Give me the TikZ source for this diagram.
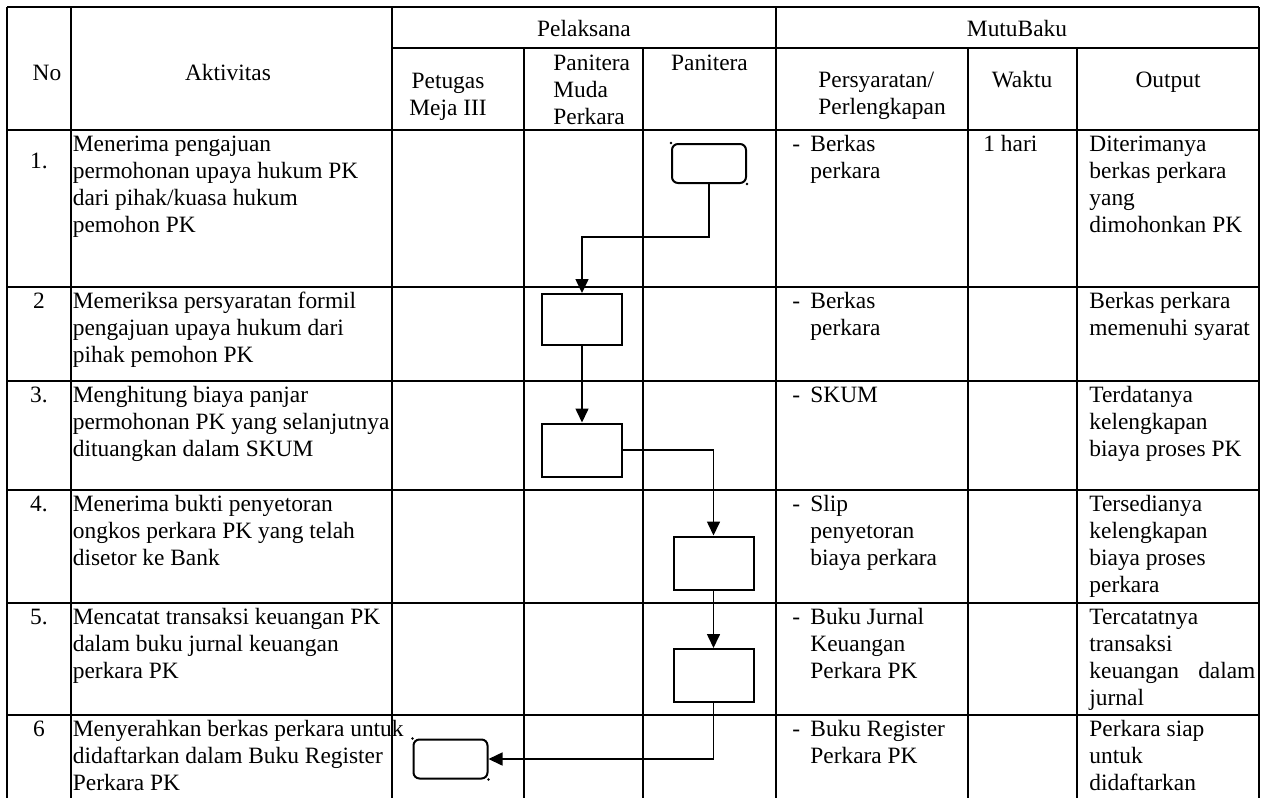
\documentclass[tikz,border=0pt]{standalone}
\usepackage{fontspec}
\setmainfont{Liberation Serif}
\usetikzlibrary{arrows.meta}
\newcommand{\isi}{\fontsize{11.7}{13.5}\selectfont}
\newcommand{\butir}{\makebox[9pt][l]{-}}
\newcommand{\sisip}{\hspace*{9pt}}
\begin{document}
\begin{tikzpicture}[x=0.5pt,y=-0.5pt,
    garis/.style={line width=0.65pt},
    kotak/.style={draw, line width=1pt, minimum width=40pt, minimum height=26.5pt, inner sep=0pt},
    bulat/.style={kotak, rounded corners=3pt, minimum width=37pt, minimum height=19.5pt},
    panah/.style={line width=0.8pt, -{Triangle[width=6.5pt,length=7pt]}},
    sel/.style={anchor=north west, inner sep=0pt, align=left, font=\isi},
    kepala/.style={inner sep=0pt, font=\isi}]
  \clip (0,0) rectangle (1268,798);
  \fill[white] (0,0) rectangle (1268,798);

  % garis tabel
  \draw[garis] (7,7) -- (1259,7);
  \draw[garis] (392,48) -- (1259,48);
  \foreach \y in {130,287,381,490,603,715}
    \draw[garis] (7,\y) -- (1259,\y);
  \foreach \x in {7,71,392,776,1259}
    \draw[garis] (\x,7) -- (\x,798);
  \foreach \x in {524,643,968,1077}
    \draw[garis] (\x,48) -- (\x,798);

  % kepala tabel
  \node[kepala, anchor=base] (hno)   at (47,80)    {No};
  \node[kepala, anchor=base] (hakt)  at (228,80)   {Aktivitas};
  \node[kepala, anchor=base] (hpel)  at (584,36)   {Pelaksana};
  \node[kepala, anchor=base] (hmutu) at (1017,36)  {MutuBaku};
  \node[kepala, anchor=north, align=center] (hpet) at (448,69) {\strut Petugas\\Meja III};
  \node[sel] (hpmp) at (553,51) {\strut Panitera\\Muda\\Perkara};
  \node[kepala, anchor=base] (hpan)  at (709.5,70) {Panitera};
  \node[sel] (hsyarat) at (818,68) {\strut Persyaratan/\\Perlengkapan};
  \node[kepala, anchor=base] (hwaktu) at (1022,87) {Waktu};
  \node[kepala, anchor=base] (hout)  at (1168,87)  {Output};

  % nomor
  \node[kepala, anchor=base] (no1) at (39,168) {1.};
  \node[kepala, anchor=base] (no2) at (39,308) {2};
  \node[kepala, anchor=base] (no3) at (39,402) {3.};
  \node[kepala, anchor=base] (no4) at (39,511) {4.};
  \node[kepala, anchor=base] (no5) at (39,624) {5.};
  \node[kepala, anchor=base] (no6) at (39,736) {6};

  % aktivitas
  \node[sel] (akt1) at (72.5,132) {\strut Menerima pengajuan\\permohonan upaya hukum PK\\dari pihak/kuasa hukum\\pemohon PK};
  \node[sel] (akt2) at (72.5,289) {\strut Memeriksa persyaratan formil\\pengajuan upaya hukum dari\\pihak pemohon PK};
  \node[sel] (akt3) at (72.5,383) {\strut Menghitung biaya panjar\\permohonan PK yang selanjutnya\\dituangkan dalam SKUM};
  \node[sel] (akt4) at (72.5,492) {\strut Menerima bukti penyetoran\\ongkos perkara PK yang telah\\disetor ke Bank};
  \node[sel] (akt5) at (72.5,605) {\strut Mencatat transaksi keuangan PK\\dalam buku jurnal keuangan\\perkara PK};
  \node[sel] (akt6) at (72.5,717) {\strut Menyerahkan berkas perkara untuk\\didaftarkan dalam Buku Register\\Perkara PK};

  % persyaratan
  \node[sel] (syr1) at (792,132) {\strut\butir Berkas\\\sisip perkara};
  \node[sel] (syr2) at (792,289) {\strut\butir Berkas\\\sisip perkara};
  \node[sel] (syr3) at (792,383) {\strut\butir SKUM};
  \node[sel] (syr4) at (792,492) {\strut\butir Slip\\\sisip penyetoran\\\sisip biaya perkara};
  \node[sel] (syr5) at (792,605) {\strut\butir Buku Jurnal\\\sisip Keuangan\\\sisip Perkara PK};
  \node[sel] (syr6) at (792,717) {\strut\butir Buku Register\\\sisip Perkara PK};

  % waktu
  \node[sel] (wkt1) at (983,132) {\strut 1 hari};

  % output
  \node[sel] (out1) at (1089,132) {\strut Diterimanya\\berkas perkara\\yang\\dimohonkan PK};
  \node[sel] (out2) at (1089,289) {\strut Berkas perkara\\memenuhi syarat};
  \node[sel] (out3) at (1089,383) {\strut Terdatanya\\kelengkapan\\biaya proses PK};
  \node[sel] (out4) at (1089,492) {\strut Tersedianya\\kelengkapan\\biaya proses\\perkara};
  \node[sel] (out5) at (1089,605) {\strut Tercatatnya\\transaksi\\\makebox[83pt][s]{keuangan dalam}\\jurnal};
  \node[sel] (out6) at (1089,717) {\strut Perkara siap\\untuk\\didaftarkan};

  % alur
  \node[bulat] (b1) at (709,163.5) {};
  \node[kotak, minimum height=25.5pt] (b2) at (582,319.5) {};
  \node[kotak] (b3) at (582,450) {};
  \node[kotak] (b4) at (713.5,563) {};
  \node[kotak] (b5) at (713.5,675.5) {};
  \node[bulat] (b6) at (450.5,759) {};
  \foreach \b in {b1,b6} {
    \fill (\b.north west) circle (0.7pt);
    \fill (\b.south east) circle (0.7pt);
  }

  \coordinate (t1) at (650,237);
  \draw[panah] (b1.south) |- (t1) -| (b2.north);
  \draw[panah] (b2) -- (b3);
  \draw[panah] (b3.east) -| (b4.north);
  \draw[panah] (b4) -- (b5);
  \draw[panah] (b5.south) |- (b6.east);
\end{tikzpicture}
\end{document}
